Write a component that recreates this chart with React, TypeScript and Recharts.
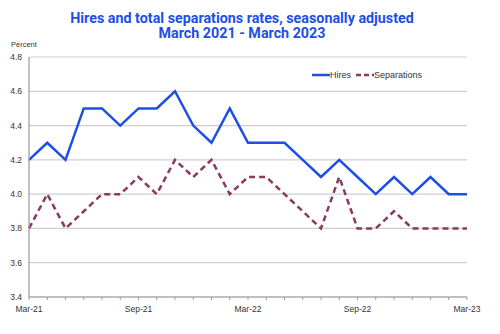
import React from 'react';
import {
  LineChart,
  Line,
  XAxis,
  YAxis,
  CartesianGrid,
} from 'recharts';

// monthly, Mar-21 .. Mar-23
const months = [
  'Mar-21', 'Apr-21', 'May-21', 'Jun-21', 'Jul-21', 'Aug-21', 'Sep-21', 'Oct-21', 'Nov-21',
  'Dec-21', 'Jan-22', 'Feb-22', 'Mar-22', 'Apr-22', 'May-22', 'Jun-22', 'Jul-22', 'Aug-22',
  'Sep-22', 'Oct-22', 'Nov-22', 'Dec-22', 'Jan-23', 'Feb-23', 'Mar-23',
];
const hires = [
  4.2, 4.3, 4.2, 4.5, 4.5, 4.4, 4.5, 4.5, 4.6, 4.4, 4.3, 4.5, 4.3,
  4.3, 4.3, 4.2, 4.1, 4.2, 4.1, 4.0, 4.1, 4.0, 4.1, 4.0, 4.0,
];
const separations = [
  3.8, 4.0, 3.8, 3.9, 4.0, 4.0, 4.1, 4.0, 4.2, 4.1, 4.2, 4.0, 4.1,
  4.1, 4.0, 3.9, 3.8, 4.1, 3.8, 3.8, 3.9, 3.8, 3.8, 3.8, 3.8,
];
const labeledMonths = ['Mar-21', 'Sep-21', 'Mar-22', 'Sep-22', 'Mar-23'];
const yTicks = [3.4, 3.6, 3.8, 4.0, 4.2, 4.4, 4.6, 4.8];

const data = months.map((m, i) => ({ month: m, hires: hires[i], separations: separations[i] }));

const HIRES_COLOR = '#1d4fe6';
const SEP_COLOR = '#8a3a62';
const FONT = 'Liberation Sans, Arial, sans-serif';
const tickFont = { fontSize: 8.5, fill: '#333', fontFamily: FONT };

const MonthTick = (props: any) => {
  const { x, y, payload } = props;
  if (!labeledMonths.includes(payload.value)) return null;
  return (
    <text x={x} y={y + 10} textAnchor="middle" {...tickFont}>
      {payload.value}
    </text>
  );
};

// legend drawn by hand so it sits inside the plot without taking space from it
const LegendBox = () => (
  <div
    style={{
      position: 'absolute',
      top: 70,
      left: 312,
      display: 'flex',
      alignItems: 'center',
      fontSize: 9,
      color: '#333',
      fontFamily: FONT,
    }}
  >
    <svg width={18} height={6}>
      <line x1={0} y1={3} x2={18} y2={3} stroke={HIRES_COLOR} strokeWidth={2.5} />
    </svg>
    <span style={{ marginRight: 5 }}>Hires</span>
    <svg width={18} height={6}>
      <line x1={0} y1={3} x2={18} y2={3} stroke={SEP_COLOR} strokeWidth={2.5} strokeDasharray="5 3" />
    </svg>
    <span>Separations</span>
  </div>
);

const App: React.FC = () => {
  return (
    <div style={{ position: 'fixed', left: 0, top: 0, width: 500, height: 334, background: '#fff' }}>
      <LineChart
        width={500}
        height={334}
        data={data}
        margin={{ top: 57, right: 33, bottom: 7, left: 0 }}
        style={{ position: 'absolute', left: 0, top: 0 }}
      >
        <CartesianGrid vertical={false} stroke="#cfcfcf" strokeWidth={1.2} />
        <XAxis
          dataKey="month"
          interval={0}
          tick={<MonthTick />}
          tickSize={3}
          tickLine={{ stroke: '#999' }}
          axisLine={{ stroke: '#999', strokeWidth: 1.2 }}
          height={30}
        />
        <YAxis
          domain={[3.4, 4.8]}
          ticks={yTicks}
          width={29}
          tickSize={0}
          tickMargin={7}
          tick={tickFont}
          tickFormatter={(v: number) => v.toFixed(1)}
          axisLine={{ stroke: '#999', strokeWidth: 1.2 }}
        />
        <YAxis
          yAxisId="border"
          orientation="right"
          domain={[3.4, 4.8]}
          width={0}
          tick={false}
          tickLine={false}
          axisLine={{ stroke: '#999', strokeWidth: 1.2 }}
        />
        <Line
          type="linear"
          dataKey="hires"
          name="Hires"
          stroke={HIRES_COLOR}
          strokeWidth={2.5}
          dot={false}
          isAnimationActive={false}
        />
        <Line
          type="linear"
          dataKey="separations"
          name="Separations"
          stroke={SEP_COLOR}
          strokeWidth={2.5}
          strokeDasharray="6 4"
          dot={false}
          isAnimationActive={false}
        />
      </LineChart>
      <div
        style={{
          position: 'absolute',
          top: 11,
          left: 0,
          width: 484,
          textAlign: 'center',
          color: HIRES_COLOR,
          fontFamily: 'Roboto, Arial, sans-serif',
          fontWeight: 700,
          fontSize: 14.3,
          lineHeight: '15px',
        }}
      >
        Hires and total separations rates, seasonally adjusted
        <br />
        March 2021 - March 2023
      </div>
      <div
        style={{
          position: 'absolute',
          top: 40,
          left: 11,
          fontSize: 7.5,
          color: '#333',
          fontFamily: FONT,
        }}
      >
        Percent
      </div>
      <LegendBox />
    </div>
  );
};

export default App;
